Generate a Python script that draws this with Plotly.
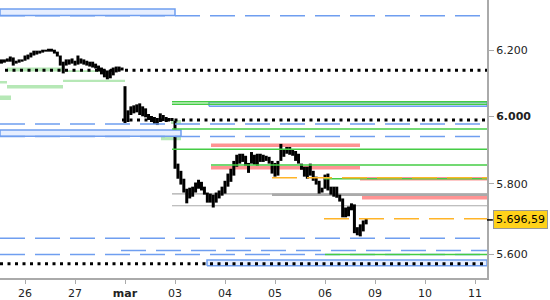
import math
import plotly.graph_objects as go

# ---------------- axis / calendar ----------------
day_labels = ['26', '27', '<b>mar</b>', '03', '04', '05', '06', '09', '10', '11']
day_ticks = [1, 2, 3, 4, 5, 6, 7, 8, 9, 10]
bars_per_day = 17
x_start, x_end = 0.5, 10.24
price_ticks = [5600, 5800, 6000, 6200]
price_tick_text = ['5.600', '5.800', '<b>6.000</b>', '6.200']
last_price = 5696.59

# ---------------- 30-minute bars (high / low) ----------------
feb25_hi = [6168, 6172, 6172, 6175, 6181, 6178, 6168, 6172, 6172]
feb25_lo = [6159, 6159, 6162, 6165, 6165, 6153, 6159, 6162, 6165]
feb26_hi = [6184, 6187, 6193, 6199, 6199, 6199, 6202, 6202, 6205, 6205, 6202, 6196, 6184, 6165, 6172, 6172, 6175]
feb26_lo = [6168, 6172, 6178, 6184, 6187, 6190, 6193, 6196, 6196, 6196, 6190, 6181, 6153, 6129, 6153, 6156, 6159]
feb27_hi = [6168, 6184, 6175, 6172, 6168, 6165, 6165, 6159, 6153, 6147, 6141, 6138, 6141, 6147, 6150, 6150, 6147]
feb27_lo = [6153, 6156, 6159, 6156, 6153, 6150, 6147, 6144, 6135, 6126, 6117, 6111, 6114, 6123, 6132, 6138, 6138]
mar02_hi = [6090, 6017, 6029, 6032, 6035, 6038, 6029, 6023, 6006, 6000, 5997, 5994, 6008, 6003, 5997, 5994, 5994]
mar02_lo = [5979, 5982, 6003, 6008, 6011, 6003, 5999, 5996, 5988, 5982, 5976, 5973, 5982, 5985, 5982, 5985, 5985]
mar03_hi = [5985, 5859, 5838, 5815, 5786, 5789, 5792, 5804, 5812, 5806, 5792, 5775, 5772, 5769, 5775, 5781, 5792]
mar03_lo = [5844, 5815, 5798, 5775, 5744, 5758, 5763, 5775, 5786, 5781, 5769, 5746, 5746, 5732, 5746, 5758, 5766]
mar04_hi = [5809, 5830, 5844, 5867, 5885, 5888, 5888, 5882, 5861, 5893, 5885, 5888, 5888, 5885, 5882, 5879, 5867]
mar04_lo = [5772, 5792, 5806, 5824, 5850, 5859, 5864, 5853, 5832, 5859, 5856, 5853, 5864, 5864, 5867, 5859, 5830]
mar05_hi = [5861, 5867, 5917, 5902, 5908, 5908, 5902, 5896, 5888, 5859, 5850, 5850, 5859, 5838, 5821, 5809, 5789]
mar05_lo = [5821, 5824, 5867, 5879, 5888, 5885, 5882, 5867, 5859, 5841, 5821, 5815, 5824, 5809, 5798, 5772, 5775]
mar06_hi = [5827, 5830, 5792, 5792, 5792, 5769, 5758, 5732, 5735, 5744, 5741, 5676, 5684, 5695, 5701]
mar06_lo = [5786, 5781, 5769, 5763, 5760, 5749, 5704, 5704, 5707, 5724, 5659, 5653, 5650, 5664, 5684]

session_day = [0, 1, 2, 3, 4, 5, 6, 7]
session_first_bar = [8, 0, 0, 0, 0, 0, 0, 0]
session_hi = [feb25_hi, feb26_hi, feb27_hi, mar02_hi, mar03_hi, mar04_hi, mar05_hi, mar06_hi]
session_lo = [feb25_lo, feb26_lo, feb27_lo, mar02_lo, mar03_lo, mar04_lo, mar05_lo, mar06_lo]

# ---------------- levels ----------------
zone_lo = [6135, 6133, 6103, 6098, 6083, 6048, 5976, 5928]
zone_hi = [6147, 6139, 6110, 6106, 6094, 6062, 5988, 5940]
zone_x0 = [0.64, 1.76, 1.76, 0.5, 0.64, 0.5, 3.92, 3.72]
zone_x1 = [1.74, 2.54, 3.00, 0.64, 1.76, 0.72, 4.12, 4.12]

box_lo = [6308.5, 6029, 5568]
box_hi = [6329.5, 6042, 5584]
box_x0 = [0.5, 4.68, 4.64]
box_x1 = [4.0, x_end, x_end]
mid_box_lo, mid_box_hi, mid_box_x0, mid_box_x1 = [5939.4], [5958], [0.5], [4.12]

red_levels = [5913, 5847, 5815, 5760]
red_x0 = [4.72, 4.72, 7.70, 7.74]
red_x1 = [7.70, 7.70, x_end, x_end]

gray_levels = [5771, 5737]
gray_x0 = [3.94, 3.94]
gray_thick_levels = [5769]
gray_thick_x0 = [5.94]

blue_dash_levels = [6308, 5976, 5939, 5645, 5610, 5599]
blue_dash_x0 = [0.5, 0.5, 0.5, 0.5, 2.92, 0.5]

green_levels = [6043, 6035, 5961, 5901, 5855, 5815, 5599]
green_x0 = [3.94, 3.94, 3.94, 3.94, 4.72, 6.98, 7.0]

orange_levels = [5818, 5700]
orange_x0 = [5.94, 6.98]

dotted_levels = [6139, 5988, 5573]
dotted_x0 = [0.6, 2.94, 0.5]


def rects(lo, hi, x0, x1, fill, line_color, lw):
    xs, ys = [], []
    for a, b, c, d in zip(x0, x1, lo, hi):
        xs += [a, b, b, a, a, None]
        ys += [c, c, d, d, c, None]
    return go.Scatter(x=xs, y=ys, mode='lines', fill='toself', fillcolor=fill,
                      line=dict(color=line_color, width=lw), hoverinfo='skip',
                      showlegend=False)


def levels(vals, x0, x1, color, width, dash='solid'):
    xs, ys = [], []
    for v, a, b in zip(vals, x0, x1):
        xs += [a, b, None]
        ys += [v, v, None]
    return go.Scatter(x=xs, y=ys, mode='lines',
                      line=dict(color=color, width=width, dash=dash),
                      hoverinfo='skip', showlegend=False)


fig = go.Figure()
fig.add_trace(rects(zone_lo, zone_hi, zone_x0, zone_x1, '#b6e8b6', 'rgba(0,0,0,0)', 0))
fig.add_trace(rects(box_lo, box_hi, box_x0, box_x1, '#e6eeff', '#6f9ef0', 1.5))
fig.add_trace(levels(red_levels, red_x0, red_x1, 'rgba(255,128,128,0.85)', 3.5))
fig.add_trace(levels(gray_levels, gray_x0, [x_end] * len(gray_levels), '#aaaaaa', 1.2))
fig.add_trace(levels(gray_thick_levels, gray_thick_x0, [x_end], '#aaaaaa', 2.5))

# price bars
bx, by = [], []
for day, first, his, los in zip(session_day, session_first_bar, session_hi, session_lo):
    for k, (h, l) in enumerate(zip(his, los)):
        x = day + (first + k) / bars_per_day
        bx += [x, x, None]
        by += [l, h, None]
fig.add_trace(go.Scatter(x=bx, y=by, mode='lines', line=dict(color='black', width=3),
                         hoverinfo='skip', showlegend=False))

fig.add_trace(rects(mid_box_lo, mid_box_hi, mid_box_x0, mid_box_x1, '#e6eeff', '#6f9ef0', 1.5))
fig.add_trace(levels(blue_dash_levels, blue_dash_x0, [x_end] * len(blue_dash_levels),
                     '#6f9ef0', 1.5, '25px,10px'))
fig.add_trace(levels(green_levels, green_x0, [x_end] * len(green_levels), '#44cc44', 1.5))
fig.add_trace(levels(orange_levels, orange_x0, [x_end] * len(orange_levels),
                     '#ffb428', 1.5, '25px,10px'))
fig.add_trace(levels(dotted_levels, dotted_x0, [x_end] * len(dotted_levels),
                     'black', 3, '3px,4.5px'))

price_text = f"{last_price:,.2f}".replace(',', 'X').replace('.', ',').replace('X', '.')
fig.add_annotation(x=1, xref='paper', y=math.log10(last_price), yref='y',
                   text=price_text, xanchor='left', xshift=6, showarrow=False,
                   bgcolor='#ffd21a', bordercolor='#999999', borderwidth=1, borderpad=2,
                   font=dict(color='#000000', size=11, family='DejaVu Sans'))
fig.add_shape(type='line', xref='paper', yref='y', x0=1, x1=1.012,
              y0=last_price, y1=last_price, line=dict(color='black', width=1.5))

fig.update_layout(
    width=550, height=300,
    margin=dict(l=0, r=63, t=0, b=20),
    paper_bgcolor='white', plot_bgcolor='white', showlegend=False,
    font=dict(family='DejaVu Sans', size=11, color='#222222'),
    xaxis=dict(range=[x_start, x_end], tickvals=day_ticks, ticktext=day_labels,
               ticks='outside', ticklen=4, tickcolor='#aaaaaa', showline=True,
               linecolor='#aaaaaa', linewidth=2, showgrid=False, zeroline=False),
    yaxis=dict(type='log', range=[3.74302, 3.80331], side='right',
               tickvals=price_ticks, ticktext=price_tick_text,
               ticks='outside', ticklen=5, tickcolor='#aaaaaa', showline=True,
               linecolor='#aaaaaa', linewidth=2, showgrid=False, zeroline=False),
)

fig.write_html("out.html")
